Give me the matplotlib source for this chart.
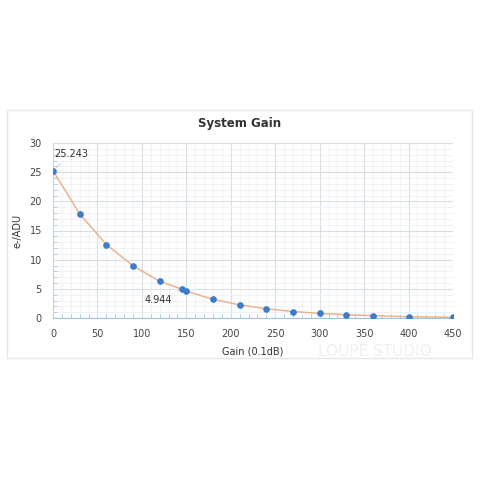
import matplotlib.pyplot as plt
from matplotlib.patches import Rectangle
from matplotlib.ticker import MultipleLocator

# gain setting (0.1 dB) vs system gain (e-/ADU)
gain = [0, 30, 60, 90, 120, 145, 150, 180, 210, 240, 270, 300, 330, 360, 400, 450]
e_per_adu = [25.243, 17.85, 12.6, 8.95, 6.3, 4.944, 4.6, 3.2, 2.25, 1.6, 1.1, 0.8, 0.56, 0.4, 0.22, 0.12]

plt.rcParams['font.family'] = ['DejaVu Sans']

fig = plt.figure(figsize=(4.8, 4.8), dpi=100)
fig.patches.append(Rectangle((7 / 480, 122 / 480), 465 / 480, 248 / 480,
                             transform=fig.transFigure, facecolor='white',
                             edgecolor='#e6e6e6', lw=1, zorder=-10))

ax = fig.add_axes([53 / 480, 162 / 480, 400 / 480, 175 / 480])
ax.set_facecolor('none')
ax.set_xlim(0, 450)
ax.set_ylim(0, 30)
ax.xaxis.set_major_locator(MultipleLocator(50))
ax.xaxis.set_minor_locator(MultipleLocator(10))
ax.yaxis.set_major_locator(MultipleLocator(5))
ax.yaxis.set_minor_locator(MultipleLocator(1))
ax.grid(which='major', color='#d8dee4', lw=0.8)
ax.grid(which='minor', color='#e9eef2', lw=0.5)
ax.set_axisbelow(True)

for s in ['top', 'right']:
    ax.spines[s].set_visible(False)
ax.spines['left'].set_color('#c4d8e3')
ax.spines['bottom'].set_color('#9cc3d8')
ax.tick_params(which='both', direction='in', colors='#a8c8da', labelcolor='#444444',
               labelsize=7, pad=8)
ax.tick_params(which='major', length=0)
ax.tick_params(which='minor', length=3)

ax.plot(gain, e_per_adu, color='#ebb28e', lw=1.1, zorder=2)
ax.plot(gain, e_per_adu, 'o', color='#3d7cc9', ms=3.8, zorder=3)

ax.annotate('25.243', xy=(0, 25.243), xytext=(1, 27.6), fontsize=7, color='#333333',
            arrowprops=dict(arrowstyle='-', color='#cccccc', lw=0.6))
ax.annotate('4.944', xy=(145, 4.944), xytext=(118, 3.1), fontsize=7, color='#333333',
            ha='center', va='center',
            arrowprops=dict(arrowstyle='-', color='#cccccc', lw=0.6))

ax.set_xlabel('Gain (0.1dB)', fontsize=7, color='#333333')
ax.xaxis.set_label_coords(0.5, -28 / 175)
ax.set_ylabel('e-/ADU', fontsize=7, color='#333333')
ax.yaxis.set_label_coords(-30 / 400, 0.5)
fig.text(0.5, 357 / 480, 'System Gain', ha='center', va='center', fontsize=8.5,
         fontweight='bold', color='#333333')
fig.text(375 / 480, 128 / 480, 'LOUPE STUDIO', ha='center', va='center', fontsize=11,
         color='#f0f0f0', zorder=5)

fig.savefig('out.png', dpi=100)
